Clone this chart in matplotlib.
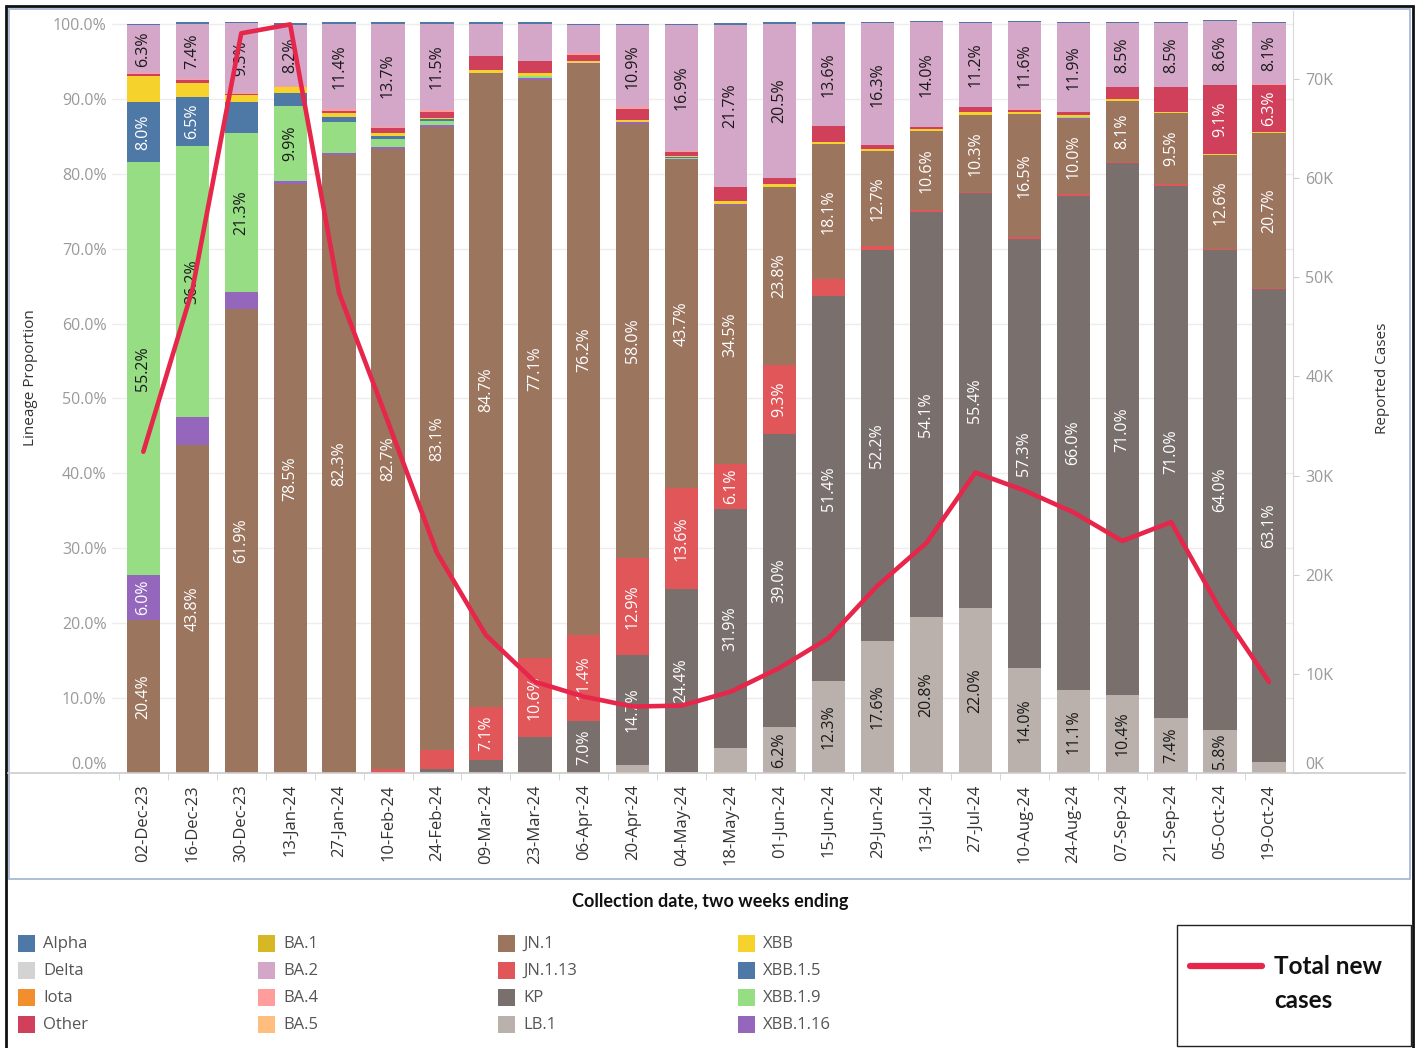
import numpy as np
import matplotlib
matplotlib.use('Agg')
import matplotlib.pyplot as plt
from matplotlib.patches import Rectangle
from matplotlib.lines import Line2D

plt.rcParams['font.family'] = ['Open Sans', 'DejaVu Sans']

dates = ['02-Dec-23', '16-Dec-23', '30-Dec-23', '13-Jan-24', '27-Jan-24', '10-Feb-24',
         '24-Feb-24', '09-Mar-24', '23-Mar-24', '06-Apr-24', '20-Apr-24', '04-May-24',
         '18-May-24', '01-Jun-24', '15-Jun-24', '29-Jun-24', '13-Jul-24', '27-Jul-24',
         '10-Aug-24', '24-Aug-24', '07-Sep-24', '21-Sep-24', '05-Oct-24', '19-Oct-24']

# lineage proportions (%), stacked bottom -> top
lb1 = [0, 0, 0, 0, 0, 0, 0, 0, 0, 0, 1.1, 0.1, 3.3, 6.2, 12.3, 17.6, 20.8, 22.0, 14.0, 11.1, 10.4, 7.4, 5.8, 1.5]
kp = [0, 0, 0, 0, 0, 0, 0.5, 1.7, 4.8, 7.0, 14.7, 24.4, 31.9, 39.0, 51.4, 52.2, 54.1, 55.4, 57.3, 66.0, 71.0, 71.0, 64.0, 63.1]
jn1_13 = [0, 0, 0.1, 0.1, 0.2, 0.6, 2.6, 7.1, 10.6, 11.4, 12.9, 13.6, 6.1, 9.3, 2.2, 0.5, 0.2, 0.2, 0.2, 0.2, 0.2, 0.2, 0.1, 0.1]
jn1 = [20.4, 43.8, 61.9, 78.5, 82.3, 82.7, 83.1, 84.7, 77.1, 76.2, 58.0, 43.7, 34.5, 23.8, 18.1, 12.7, 10.6, 10.3, 16.5, 10.0, 8.1, 9.5, 12.6, 20.7]
xbb_1_16 = [6.0, 3.7, 2.2, 0.5, 0.3, 0.3, 0.3, 0, 0.3, 0.2, 0.2, 0.2, 0.2, 0, 0, 0, 0, 0, 0, 0.1, 0, 0, 0, 0]
xbb_1_9 = [55.2, 36.2, 21.3, 9.9, 4.1, 1.1, 0.5, 0, 0.3, 0, 0, 0.1, 0, 0, 0, 0, 0, 0, 0, 0.2, 0, 0, 0, 0]
xbb_1_5 = [8.0, 6.5, 4.1, 1.8, 0.7, 0.4, 0.3, 0, 0, 0, 0, 0.1, 0, 0, 0, 0, 0, 0, 0, 0, 0, 0, 0, 0]
xbb = [3.4, 1.9, 0.9, 0.8, 0.5, 0.3, 0.2, 0.3, 0.3, 0.3, 0.3, 0.2, 0.3, 0.3, 0.3, 0.3, 0.3, 0.3, 0.2, 0.2, 0.3, 0.2, 0.2, 0.2]
other = [0.3, 0.4, 0.2, 0, 0.3, 0.7, 0.8, 1.9, 1.7, 0.8, 1.4, 0.5, 1.9, 0.9, 2.1, 0.5, 0.2, 0.7, 0.3, 0.4, 1.6, 3.3, 9.1, 6.3]
ba4 = [0.2, 0.1, 0.1, 0.1, 0.2, 0.2, 0.2, 0, 0, 0.2, 0.3, 0.1, 0, 0, 0, 0, 0, 0, 0.1, 0, 0, 0, 0, 0.1]
ba2 = [6.3, 7.4, 9.3, 8.2, 11.4, 13.7, 11.5, 4.3, 4.9, 3.7, 10.9, 16.9, 21.7, 20.5, 13.6, 16.3, 14.0, 11.2, 11.6, 11.9, 8.5, 8.5, 8.6, 8.1]
alpha = [0.2, 0.2, 0.2, 0.2, 0.2, 0.2, 0.2, 0.2, 0.2, 0.2, 0.2, 0.1, 0.2, 0.2, 0.2, 0.2, 0.2, 0.2, 0.2, 0.2, 0.2, 0.2, 0.1, 0.2]

# total new cases (reported)
cases = [32400, 48700, 74600, 75500, 48400, 35400, 22200, 13900, 9200, 7700, 6700, 6800,
         8200, 10600, 13600, 18900, 23200, 30300, 28500, 26300, 23400, 25300, 16500, 9200]

colors = {
    'Alpha': '#4e79a7', 'Delta': '#d3d3d3', 'Iota': '#f28e2b', 'Other': '#d0405a',
    'BA.1': '#d6b824', 'BA.2': '#d4a6c8', 'BA.4': '#ff9d9a', 'BA.5': '#ffbe7d',
    'JN.1': '#9c755f', 'JN.1.13': '#e15759', 'KP': '#79706e', 'LB.1': '#bab0ac',
    'XBB': '#f5d32c', 'XBB.1.5': '#4e79a7', 'XBB.1.9': '#96dd84', 'XBB.1.16': '#9467bd',
}
light = {'BA.2', 'XBB.1.9', 'LB.1', 'XBB', 'Delta'}

stack = [('LB.1', lb1), ('KP', kp), ('JN.1.13', jn1_13), ('JN.1', jn1),
         ('XBB.1.16', xbb_1_16), ('XBB.1.9', xbb_1_9), ('XBB.1.5', xbb_1_5),
         ('XBB', xbb), ('Other', other), ('BA.4', ba4), ('BA.2', ba2), ('Alpha', alpha)]

W, H = 1419, 1048


def fx(px):
    return px / W


def fy(py):
    return 1 - py / H


fig = plt.figure(figsize=(W / 100, H / 100), dpi=100)
ax = fig.add_axes([fx(112), fy(773), fx(1293) - fx(112), (773 - 10.5) / H])

x = np.arange(len(dates))
bottom = np.zeros(len(dates))
for name, vals in stack:
    vals = np.array(vals, dtype=float)
    ax.bar(x, vals, width=0.68, bottom=bottom, color=colors[name], edgecolor='none', zorder=2)
    for i in range(len(x)):
        if vals[i] >= 5.5:
            ax.text(i, bottom[i] + vals[i] / 2, f'{vals[i]:.1f}%', rotation=90,
                    ha='center', va='center', fontsize=11.5,
                    color='#1a1a1a' if name in light else 'white', zorder=4)
    bottom += vals

ax.set_xlim(-0.64, 23.49)
ax.set_ylim(0, 101.8)
ax.set_yticks(np.arange(0, 101, 10))
ax.set_yticklabels([f'{v:.1f}%' for v in np.arange(0, 101, 10)])
ax.yaxis.grid(True, color='#ededed', lw=1)
ax.set_axisbelow(True)
ax.tick_params(axis='y', length=0, pad=4, labelsize=11.5, labelcolor='#9a9a9a')
ax.set_xticks(x)
ax.set_xticklabels(dates, rotation=90)
ax.tick_params(axis='x', length=0, pad=8, labelsize=12, labelcolor='#333333')
ax.set_xticks(x - 0.5, minor=True)
ax.tick_params(axis='x', which='minor', length=5, color='#d0d0d0')
for s in ax.spines.values():
    s.set_visible(False)
ax.get_yticklabels()[0].set_va('bottom')

ax2 = ax.twinx()
ax2.plot(x, cases, color='#e6264a', lw=3.3, solid_joinstyle='round', solid_capstyle='round', zorder=3)
ax2.set_ylim(0, 76900)
ax2.set_yticks(np.arange(0, 70001, 10000))
ax2.set_yticklabels([f'{v // 1000}K' for v in np.arange(0, 70001, 10000)])
ax2.tick_params(axis='y', length=4, color='#d0d0d0', pad=5, labelsize=11.5, labelcolor='#9a9a9a')
for s in ['top', 'left', 'bottom']:
    ax2.spines[s].set_visible(False)
ax2.spines['right'].set_color('#d9d9d9')
ax2.get_yticklabels()[0].set_va('bottom')

# baseline across the chart
fig.add_artist(Line2D([fx(8), fx(1405)], [fy(773), fy(773)], color='#cccccc', lw=1.2))

fig.text(fx(31), fy(378), 'Lineage Proportion', rotation=90, ha='center', va='center',
         fontsize=11, color='#333333')
fig.text(fx(1383), fy(378), 'Reported Cases', rotation=90, ha='center', va='center',
         fontsize=11, color='#333333')
fig.text(fx(710), fy(901), 'Collection date, two weeks ending', ha='center', va='center',
         fontsize=13, fontweight='bold', family=['Lato', 'DejaVu Sans'], color='#111111')

# frames
fig.add_artist(Rectangle((fx(9), fy(879)), fx(1401), 870 / H, transform=fig.transFigure,
                         fill=False, edgecolor='#9fb3cf', lw=1.2))
fig.add_artist(Rectangle((fx(6), fy(1050)), fx(1407), 1044 / H, transform=fig.transFigure,
                         fill=False, edgecolor='#111111', lw=2))

# legend of lineages
legend_cols = [['Alpha', 'Delta', 'Iota', 'Other'],
               ['BA.1', 'BA.2', 'BA.4', 'BA.5'],
               ['JN.1', 'JN.1.13', 'KP', 'LB.1'],
               ['XBB', 'XBB.1.5', 'XBB.1.9', 'XBB.1.16']]
for c, col in enumerate(legend_cols):
    x0 = 18 + 240 * c
    for r, name in enumerate(col):
        yc = 943 + 27 * r
        fig.add_artist(Rectangle((fx(x0), fy(yc + 8.5)), 17 / W, 17 / H, transform=fig.transFigure,
                                 facecolor=colors[name], edgecolor='none'))
        fig.text(fx(x0 + 25), fy(yc + 1), name, ha='left', va='center', fontsize=12, color='#555555')

# legend for the line
fig.add_artist(Rectangle((fx(1177), fy(1046)), 234 / W, 121 / H, transform=fig.transFigure,
                         fill=False, edgecolor='#222222', lw=1))
fig.add_artist(Line2D([fx(1190), fx(1262)], [fy(966), fy(966)], color='#e6264a', lw=4.5,
                      solid_capstyle='round'))
fig.text(fx(1274), fy(966), 'Total new', ha='left', va='center', fontsize=17.5, fontweight='bold',
         family=['Lato', 'DejaVu Sans'], color='#111111')
fig.text(fx(1274), fy(1001), 'cases', ha='left', va='center', fontsize=17.5, fontweight='bold',
         family=['Lato', 'DejaVu Sans'], color='#111111')

fig.savefig('out.png', dpi=100)
